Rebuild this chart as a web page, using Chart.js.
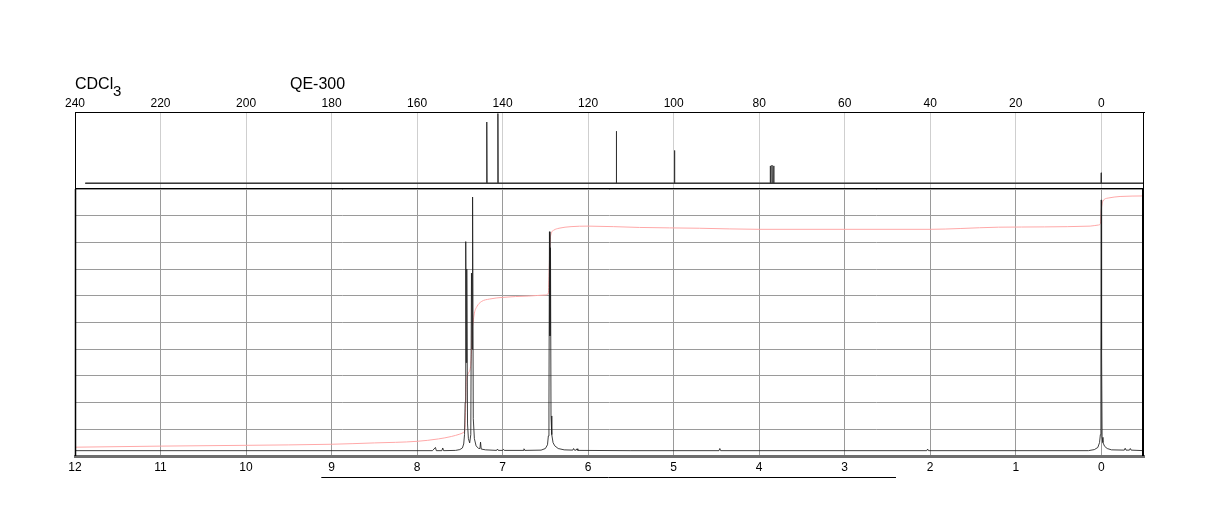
<!DOCTYPE html>
<html><head><meta charset="utf-8">
<script src="https://cdn.jsdelivr.net/npm/chart.js@4.4.1/dist/chart.umd.min.js"></script>
<style>
html,body{margin:0;padding:0;background:#fff;}
#wrap{position:relative;width:1224px;height:528px;overflow:hidden;}
canvas{position:absolute;left:0;top:0;}
.lbl{position:absolute;font-family:"Liberation Sans",Arial,sans-serif;color:#000;line-height:1;white-space:nowrap;}
</style></head><body>
<div id="wrap">
<canvas id="c13" width="1224" height="528" style="width:1224px;height:528px"></canvas>
<canvas id="h1" width="1224" height="528" style="width:1224px;height:528px"></canvas>
<div class="lbl" style="left:75px;top:76px;font-size:16px">CDCl</div>
<div class="lbl" style="left:113px;top:83px;font-size:15px">3</div>
<div class="lbl" style="left:290px;top:76px;font-size:16px">QE-300</div>
</div>
<script>
// ---------- 13C panel (top) ----------
const C13_TICKS = [240,220,200,180,160,140,120,100,80,60,40,20,0];
const C13_RANGE = [-10, 240];
const C13_PEAK_PPM = [143.7, 141.1, 113.4, 99.8, 77.4, 77.0, 76.6, 0.0];
const C13_PEAK_INT = [87, 98, 75, 50, 30, 31, 30, 21];
const C13_BASE = 7.4;
const C13_SPAN = [237.6, -9.8];

// ---------- 1H panel (bottom) ----------
const H1_TICKS = [12,11,10,9,8,7,6,5,4,3,2,1,0];
const H1_RANGE = [-0.5, 12];
const H1_PPM = [12.0,7.82,7.785,7.775,7.71,7.70,7.69,7.55,7.50,7.47,7.455,7.445,7.438,7.431,7.425,7.419,7.41,7.40,7.385,7.372,7.364,7.357,7.351,7.343,7.33,7.31,7.28,7.265,7.258,7.25,7.20,7.07,7.06,7.05,7.0,6.99,6.98,6.76,6.75,6.74,6.55,6.50,6.475,6.465,6.458,6.452,6.446,6.440,6.434,6.425,6.41,6.39,6.35,6.28,6.18,6.17,6.16,6.14,6.13,6.12,5.5,4.47,4.46,4.45,2.04,2.03,2.02,0.15,0.08,0.04,0.02,0.01,0.004,0.0,-0.004,-0.01,-0.02,-0.04,-0.07,-0.12,-0.27,-0.28,-0.29,-0.33,-0.34,-0.35,-0.5];
const H1_INT = [2.0,2.0,3.2,2.0,2.0,3.0,2.0,2.1,2.4,3.0,4.5,8,20,80.3,35,70,12,6.5,4.9,8,68.5,40,97,14,6.5,3.8,2.8,2.8,5.2,2.6,2.3,2.1,2.6,2.1,2.1,2.5,2.1,2.1,2.7,2.1,2.2,2.8,4.2,7.5,18,84,45,78,15,8,5,3.8,2.8,2.3,2.2,2.8,2.2,2.2,2.7,2.1,2.0,2.0,2.8,2.0,2.0,2.6,2.0,2.0,2.4,3.2,5,8,40,95.9,40,7,5,3.6,2.8,2.3,2.2,2.9,2.2,2.2,2.8,2.2,2.0];

const INTEG_PPM = [12,11,10,9,8.5,8.0,7.75,7.6,7.5,7.45,7.44,7.435,7.428,7.42,7.40,7.375,7.365,7.355,7.345,7.33,7.30,7.25,7.15,7.0,6.7,6.5,6.465,6.455,6.445,6.43,6.40,6.34,6.2,6.0,5.4,4.7,4.0,2.0,1.65,1.2,0.13,0.035,0.01,0.0,-0.02,-0.08,-0.22,-0.5];
const INTEG_VAL = [3.3,3.7,4.0,4.4,4.9,5.5,6.4,7.3,8.2,9.0,10,15,26,29,31,33.5,38,47,50,53.5,56,57.8,58.8,59.4,59.9,60.3,61,70,80,83.4,84.6,85.3,85.9,86.1,85.6,85.3,84.9,84.9,85.2,85.7,86.1,86.5,87,92,95.5,96.6,97.2,97.4];

const MARK_RANGE = [9.12, 2.40];

// build 13C trace from peak list
function c13Points(){
  const pts = [{x:C13_SPAN[0], y:C13_BASE}];
  const order = C13_PEAK_PPM.map((p,i)=>i).sort((a,b)=>C13_PEAK_PPM[b]-C13_PEAK_PPM[a]);
  order.forEach(i=>{
    const p = C13_PEAK_PPM[i];
    pts.push({x:p+0.06, y:C13_BASE},{x:p, y:C13_PEAK_INT[i]},{x:p-0.06, y:C13_BASE});
  });
  pts.push({x:C13_SPAN[1], y:C13_BASE});
  return pts;
}
const FONT = {family:'"Liberation Sans", Arial, sans-serif', size:12};

const framePlugin = {
  id:'frame',
  afterDraw(chart, args, o){
    const {ctx, chartArea:a} = chart;
    ctx.save();
    ctx.strokeStyle = '#000';
    ctx.lineWidth = 1;
    if (o.box){
      ctx.strokeRect(Math.round(a.left)+0.5, Math.round(a.top)+0.5, Math.round(a.right-a.left)-1, Math.round(a.bottom-a.top));
      ctx.lineWidth = 2;
      ctx.beginPath(); ctx.moveTo(a.left, a.bottom); ctx.lineTo(a.right, a.bottom); ctx.stroke();
    }
    if (o.side){
      ctx.lineWidth = 2;
      ctx.beginPath(); ctx.moveTo(a.right-1, a.top); ctx.lineTo(a.right-1, a.bottom); ctx.stroke();
      ctx.lineWidth = 1.5;
      ctx.beginPath(); ctx.moveTo(a.left+0.5, a.top); ctx.lineTo(a.left+0.5, a.bottom); ctx.stroke();
    }
    if (o.mark){
      const xs = chart.scales.x;
      const x0 = xs.getPixelForValue(MARK_RANGE[0]), x1 = xs.getPixelForValue(MARK_RANGE[1]);
      ctx.lineWidth = 1;
      ctx.beginPath(); ctx.moveTo(x0, a.bottom+21.5); ctx.lineTo(x1, a.bottom+21.5); ctx.stroke();
    }
    ctx.restore();
  }
};

new Chart(document.getElementById('c13'), {
  type:'line',
  data:{datasets:[
    {data:c13Points(), borderColor:'#333', borderWidth:1, pointRadius:0, tension:0},
    {data:[{x:C13_SPAN[0],y:C13_BASE},{x:C13_SPAN[1],y:C13_BASE}], borderColor:'#555', borderWidth:1.6, pointRadius:0}
  ]},
  options:{
    responsive:false, animation:false, devicePixelRatio:1,
    layout:{padding:{left:75,right:80,top:0,bottom:339}},
    plugins:{legend:{display:false}, tooltip:{enabled:false}, frame:{box:true}},
    scales:{
      x:{type:'linear', position:'top', reverse:true, min:C13_RANGE[0], max:C13_RANGE[1],
         afterBuildTicks:s=>{s.ticks = C13_TICKS.map(v=>({value:v}));},
         afterFit:s=>{s.height=112;},
         grid:{color:'#cfcfcf', lineWidth:1, drawTicks:false},
         border:{display:true, color:'#000', width:1},
         ticks:{font:FONT, color:'#000', padding:1, maxRotation:0, autoSkip:false}},
      y:{display:false, min:0, max:100}
    }
  },
  plugins:[framePlugin]
});

new Chart(document.getElementById('h1'), {
  type:'line',
  data:{datasets:[
    {data:H1_PPM.map((p,i)=>({x:p,y:H1_INT[i]})), borderColor:'rgba(30,30,30,0.85)', borderWidth:1, pointRadius:0, tension:0},
    {data:INTEG_PPM.map((p,i)=>({x:p,y:INTEG_VAL[i]})), borderColor:'#ffa8a8', borderWidth:1, pointRadius:0, tension:0.3, cubicInterpolationMode:'monotone'}
  ]},
  options:{
    responsive:false, animation:false, devicePixelRatio:1,
    layout:{padding:{left:75,right:80,top:189,bottom:0}},
    plugins:{legend:{display:false}, tooltip:{enabled:false}, frame:{side:true, mark:true}},
    scales:{
      x:{type:'linear', position:'bottom', reverse:true, min:H1_RANGE[0], max:H1_RANGE[1],
         afterBuildTicks:s=>{s.ticks = H1_TICKS.map(v=>({value:v}));},
         afterFit:s=>{s.height=72;},
         grid:{color:'#9a9a9a', lineWidth:1, drawTicks:false},
         border:{display:true, color:'#6e6e6e', width:3},
         ticks:{font:FONT, color:'#000', padding:4, maxRotation:0, autoSkip:false}},
      y:{min:0, max:100, afterFit:s=>{s.width=0;},
         afterBuildTicks:s=>{s.ticks=[0,10,20,30,40,50,60,70,80,90,100].map(v=>({value:v}));},
         grid:{color:'#9a9a9a', lineWidth:1, drawTicks:false},
         border:{display:false},
         ticks:{display:false}}
    }
  },
  plugins:[framePlugin]
});
</script>
</body></html>
